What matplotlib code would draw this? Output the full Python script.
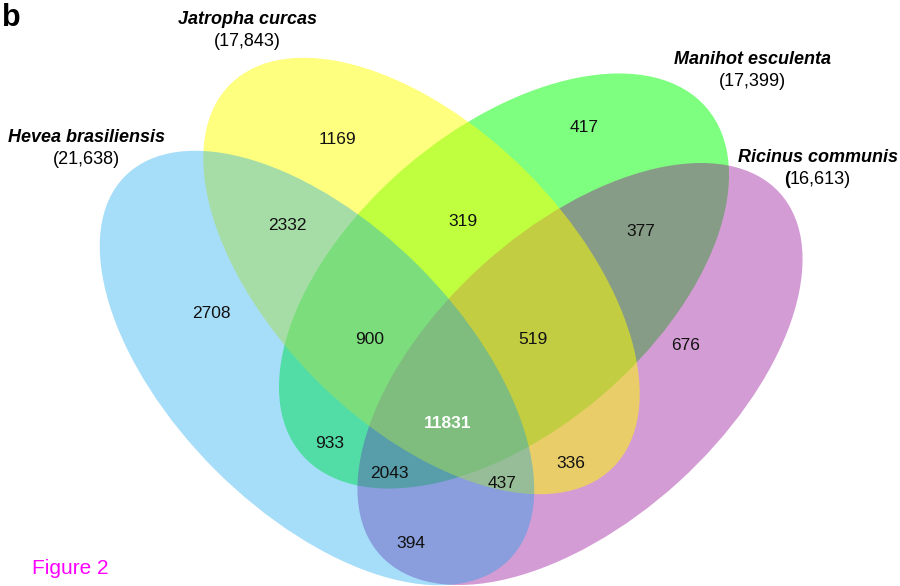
import matplotlib
matplotlib.use("Agg")
import matplotlib.pyplot as plt
from matplotlib.patches import Ellipse

plt.rcParams['font.family'] = ['Liberation Sans', 'DejaVu Sans']

# ---------------- data ----------------
set_names = ["Hevea brasiliensis", "Jatropha curcas", "Manihot esculenta", "Ricinus communis"]
set_sizes = [21638, 17843, 17399, 16613]
region_keys = ["H", "J", "M", "R", "HJ", "JM", "MR", "HR", "HM", "JR",
               "HJM", "JMR", "HMR", "HJR", "HJMR"]
region_counts = [2708, 1169, 417, 676, 2332, 319, 377, 394, 933, 336,
                 900, 519, 2043, 437, 11831]
panel_letter = "b"
caption = "Figure 2"

# ---------------- layout (pixel-like coordinates) ----------------
W, H = 900, 586
fig = plt.figure(figsize=(W / 100, H / 100), dpi=100)
ax = fig.add_axes([0, 0, 1, 1])
ax.set_xlim(0, W)
ax.set_ylim(H, 0)
ax.axis("off")

# ellipse geometry: centre, full width, full height, angle ; colour, alpha
ell = {
    "M": dict(xy=(504, 281), w=2 * 266.5, h=2 * 150.6, ang=139.5, col=(0.0, 1.0, 0.0), a=0.5),
    "R": dict(xy=(580, 374), w=2 * 269.6, h=2 * 146.2, ang=137.8, col=(146/255, 0.0, 146/255), a=0.39),
    "J": dict(xy=(421.5, 276), w=2 * 270.8, h=2 * 148.0, ang=45.0, col=(1.0, 1.0, 0.0), a=0.5),
    "H": dict(xy=(317, 368), w=2 * 271.4, h=2 * 144.0, ang=45.0, col=(0.0, 160/255, 240/255), a=0.35),
}
for k in ["M", "R", "J", "H"]:
    e = ell[k]
    ax.add_patch(Ellipse(e["xy"], e["w"], e["h"], angle=e["ang"],
                         facecolor=e["col"], alpha=e["a"], edgecolor="none", lw=0))

region_pos = {
    "H": (211, 314), "J": (337, 139), "M": (584, 128), "R": (686, 346),
    "HJ": (287, 225), "JM": (463, 222), "MR": (641, 232), "HR": (411, 543),
    "HM": (330, 444), "JR": (571, 463), "HJM": (370, 340), "JMR": (533, 339),
    "HMR": (389, 474), "HJR": (502, 484), "HJMR": (448, 423),
}
for key, cnt in zip(region_keys, region_counts):
    x, y = region_pos[key]
    if key == "HJMR":
        ax.text(x, y, str(cnt), ha="center", va="center", fontsize=12.5,
                fontweight="bold", color="white")
    else:
        ax.text(x, y, str(cnt), ha="center", va="center", fontsize=12.5, color="#111111")

name_pos = {0: (86, 138), 1: (247, 20), 2: (752, 60), 3: (818, 158)}
for i, (nm, sz) in enumerate(zip(set_names, set_sizes)):
    x, y = name_pos[i]
    ax.text(x, y, nm, ha="center", va="center", fontsize=13, fontweight="bold",
            fontstyle="italic", color="black")
    s = f"({sz:,})"
    if i == 3:
        xs = x - 28
        ax.text(xs, y + 22, "(", ha="right", va="center", fontsize=13,
                fontweight="bold", color="black")
        ax.text(xs, y + 22, s[1:], ha="left", va="center", fontsize=13, color="black")
    else:
        ax.text(x, y + 22, s, ha="center", va="center", fontsize=13, color="black")

ax.text(2, 18, panel_letter, ha="left", va="center", fontsize=22, fontweight="bold", color="black")
ax.text(32, 568, caption, ha="left", va="center", fontsize=15, color="#FF00FF")

fig.savefig("out.png", dpi=100)
